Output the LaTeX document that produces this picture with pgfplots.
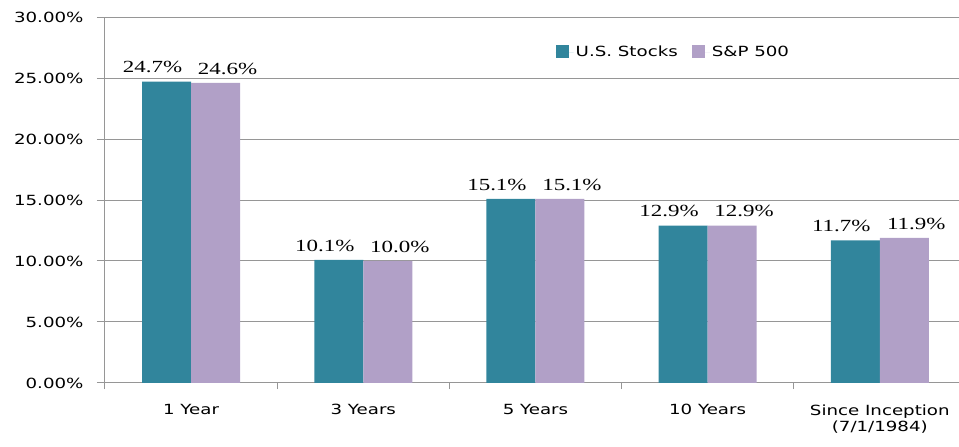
\documentclass[border=0pt]{standalone}
\usepackage{fontspec}
\usepackage{pgfplots}
\pgfplotsset{compat=1.18}
\setmainfont{Liberation Serif}[FakeStretch=1.35]
\newfontfamily\axfont{DejaVu Sans}[FakeStretch=1.3]
\definecolor{stockTeal}{RGB}{49,133,156}
\definecolor{spPurple}{RGB}{177,160,199}
\definecolor{gridGray}{RGB}{150,150,150}

\begin{document}
\begin{tikzpicture}
\begin{axis}[
    scale only axis,
    width=854pt, height=366pt,
    ybar, bar width=49pt,
    xmin=-0.5, xmax=4.46,
    ymin=0, ymax=30,
    axis x line*=bottom, axis y line*=left,
    axis line style={gridGray, line width=1pt},
    xtick={0,1,2,3,4},
    xticklabels={1 Year, 3 Years, 5 Years, 10 Years, {Since Inception\\(7/1/1984)}},
    xticklabel style={align=center, font=\axfont\fontsize{14}{16}\selectfont, yshift=-10pt},
    minor xtick={-0.5,0.5,1.5,2.5,3.5},
    major x tick style={draw=none},
    minor x tick style={gridGray, line width=1pt},
    ytick={0,5,...,30},
    yticklabel={\pgfmathprintnumber[fixed,fixed zerofill,precision=2]{\tick}\%},
    yticklabel style={font=\axfont\fontsize{14}{16}\selectfont, xshift=-10pt},
    y tick style={gridGray, line width=1pt},
    tick align=outside,
    major tick length=8pt, minor tick length=6pt,
    ymajorgrids, major grid style={gridGray, line width=1pt},
    /pgf/number format/assume math mode=true,
    nodes near coords={\pgfmathprintnumber[fixed,fixed zerofill,precision=1]{\pgfplotspointmeta}\%},
    every node near coord/.append style={font=\fontsize{17}{20}\selectfont, yshift=5pt},
    legend style={draw=none, fill=none, at={(rel axis cs:0.524,0.904)}, anchor=west,
        font=\axfont\fontsize{14}{16}\selectfont, /tikz/every even column/.append style={column sep=12pt}},
    legend columns=2,
    legend image code/.code={\fill[#1] (0pt,-6pt) rectangle (13pt,7pt); \path (0pt,0pt) -- (18pt,0pt);},
]
\addplot[fill=stockTeal, draw=none, bar shift=-24.5pt,
    every node near coord/.append style={xshift=-14pt}]
    coordinates {(0,24.7) (1,10.1) (2,15.1) (3,12.9) (4,11.7)};
\addlegendentry{U.S. Stocks}
\addplot[fill=spPurple, draw=none, bar shift=24.5pt,
    every node near coord/.append style={xshift=12pt}]
    coordinates {(0,24.6) (1,10.0) (2,15.1) (3,12.9) (4,11.9)};
\addlegendentry{S\&P 500}
\end{axis}
\pgfresetboundingbox
\path ([xshift=-105pt,yshift=-64pt]current axis.south west) rectangle ++(959pt,447pt);
\end{tikzpicture}
\end{document}
